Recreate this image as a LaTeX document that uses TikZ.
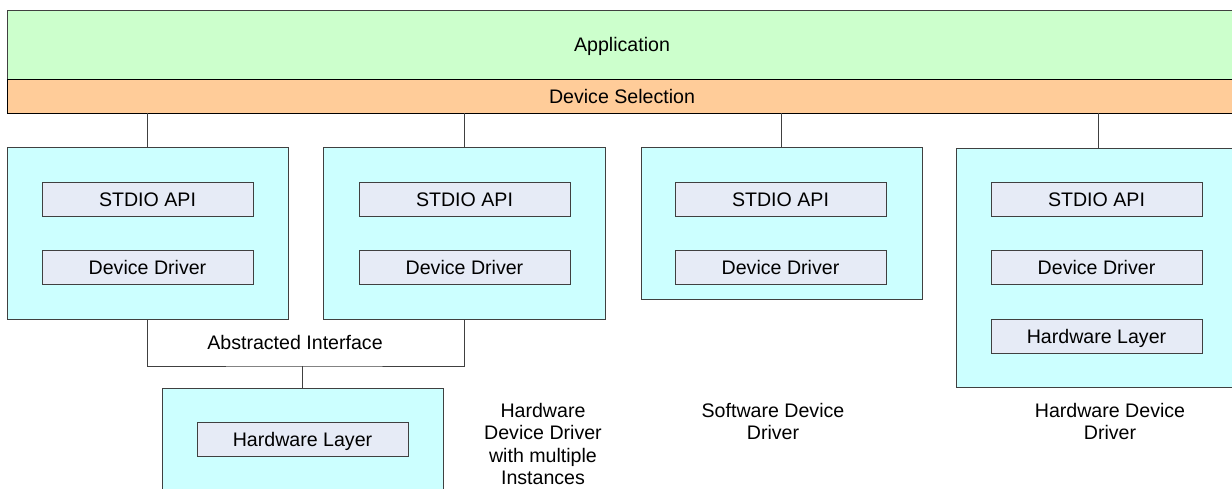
\documentclass[tikz,border=0pt]{standalone}
\usepackage{fontspec}
\setmainfont{Liberation Sans}
\definecolor{appgreen}{HTML}{CCFFCC}
\definecolor{selorange}{HTML}{FFCC99}
\definecolor{boxcyan}{HTML}{CCFFFF}
\definecolor{innerblue}{HTML}{E6EBF6}
\definecolor{edge}{HTML}{404040}
\begin{document}
\begin{tikzpicture}[x=1pt,y=-1pt,
  every node/.style={font=\fontsize{19.6}{22.5}\selectfont, inner sep=0pt, outer sep=0pt},
  oneline/.style={text height=14pt, text depth=0pt},
  layer/.style={draw=edge, line width=1pt, anchor=north west, minimum width=1230pt, oneline},
  group/.style={draw=edge, line width=1pt, fill=boxcyan, anchor=north west, minimum width=281pt},
  inner/.style={draw=edge, line width=1pt, fill=innerblue, anchor=north west, minimum width=211pt, minimum height=34pt, oneline},
  caption/.style={align=center, anchor=base},
  link/.style={draw=edge, line width=1pt}]
\useasboundingbox (0,0) rectangle (1232,488);
\clip (0,0) rectangle (1232,488);
% top layers
\node[layer, fill=appgreen, minimum height=69pt] (app) at (7,10) {Application};
\node[layer, fill=selorange, minimum height=34pt, draw=black] (sel) at (7,79) {Device Selection};
% device groups
\node[group, minimum height=172pt] (g1) at (7,147) {};
\node[group, minimum width=282pt, minimum height=172pt] (g2) at (323,147) {};
\node[group, minimum height=152pt] (g3) at (641,147) {};
\node[group, minimum width=284pt, minimum height=239pt] (g4) at (956,148) {};
\node[group, minimum height=120pt] (g5) at (162,388) {};
% inner blocks
\node[inner] (s1) at (42,182) {STDIO API};
\node[inner] (d1) at (42,250) {Device Driver};
\node[inner] (s2) at (359,182) {STDIO API};
\node[inner] (d2) at (359,250) {Device Driver};
\node[inner] (s3) at (675,182) {STDIO API};
\node[inner] (d3) at (675,250) {Device Driver};
\node[inner] (s4) at (991,182) {STDIO API};
\node[inner] (d4) at (991,250) {Device Driver};
\node[inner] (h4) at (991,319) {Hardware Layer};
\node[inner] (h5) at (197,422) {Hardware Layer};
% connectors from device selection
\draw[link] (g1.north) -- (g1.north |- sel.south);
\draw[link] (g2.north) -- (g2.north |- sel.south);
\draw[link] (g3.north) -- (g3.north |- sel.south);
\draw[link] (g4.north) -- (g4.north |- sel.south);
% abstracted interface
\coordinate (ai) at (302.5,366);
\draw[link] (g1.south) |- (ai) -| (g2.south);
\draw[link] (g5.north) -- (ai);
\node[oneline, anchor=center] (ailabel) at (295,342) {Abstracted Interface};
% captions (base anchor = baseline of last line)
\node[caption] (c1) at (543,484.5) {Hardware\\Device Driver\\with multiple\\Instances};
\node[caption] (c2) at (773,439.5) {Software Device\\Driver};
\node[caption] (c3) at (1110,439.5) {Hardware Device\\Driver};
\end{tikzpicture}
\end{document}
